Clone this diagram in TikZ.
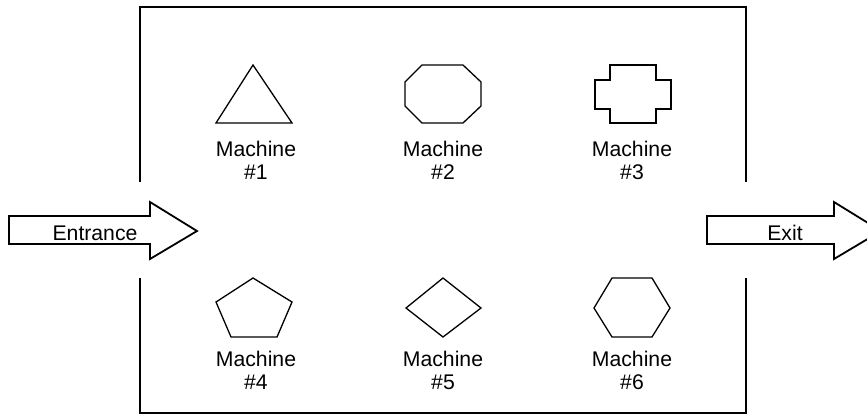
\documentclass[tikz,border=0pt]{standalone}
\usepackage{fontspec}
\setmainfont{Liberation Sans}
\usepackage{xcolor}
\usetikzlibrary{positioning}
\definecolor{ink}{RGB}{0,0,0}

\begin{document}
\begin{tikzpicture}[x=0.5pt, y=-0.5pt,
    machine/.style={draw=ink, line width=0.65pt, line join=miter},
    caption/.style={font=\fontsize{10.6}{11.4}\selectfont, text=ink, align=center,
                    inner sep=0pt, anchor=north},
    flow/.style={draw=ink, line width=0.9pt, fill=white},
    flowtext/.style={font=\fontsize{10.6}{11.4}\selectfont, text=ink, inner sep=0pt, anchor=base}
  ]
  \useasboundingbox (0,0) rectangle (867,414);
  % --- shop floor, open at entrance and exit ---
  \draw[ink, line width=1pt] (140,182) -- (140,7) -- (746,7) -- (746,182);
  \draw[ink, line width=1pt] (140,278) -- (140,412.5) -- (746,412.5) -- (746,278);

  % top row of machines
  \draw[machine] (253,65) -- (292,123) -- (216,123) -- cycle;
  \draw[machine] (422,65) -- (463,65) -- (481,82) -- (481,106) -- (463,123)
                 -- (422,123) -- (405,106) -- (405,82) -- cycle;
  \draw[machine] (610,65) -- (656,65) -- (656,80) -- (671,80) -- (671,109) -- (656,109)
                 -- (656,123) -- (610,123) -- (610,109) -- (595,109) -- (595,80) -- (610,80) -- cycle;
  % bottom row of machines
  \draw[machine] (253,278) -- (292,302) -- (277,337) -- (231,337) -- (216,302) -- cycle;
  \draw[machine] (443,278) -- (481,308) -- (443,337) -- (406,308) -- cycle;
  \draw[machine] (612,278) -- (652,278) -- (670,308) -- (652,337) -- (612,337) -- (594,308) -- cycle;

  \foreach \i/\x/\y in {1/256/141, 2/443/141, 3/632/141, 4/256/351, 5/443/351, 6/632/351} {
      \node[caption] (m\i) at (\x,\y) {Machine\\\#\i};
  }

  % --- entrance and exit ---
  \draw[flow] (9,216) -- (150,216) -- (150,202) -- (197,231) -- (150,259) -- (150,244) -- (9,244) -- cycle;
  \node[flowtext] (entrance) at (95,240) {Entrance};
  \draw[flow] (707,216) -- (834,216) -- (834,202) -- (881,231) -- (834,259) -- (834,244) -- (707,244) -- cycle;
  \node[flowtext] (exit) at (785,240) {Exit};
\end{tikzpicture}
\end{document}
